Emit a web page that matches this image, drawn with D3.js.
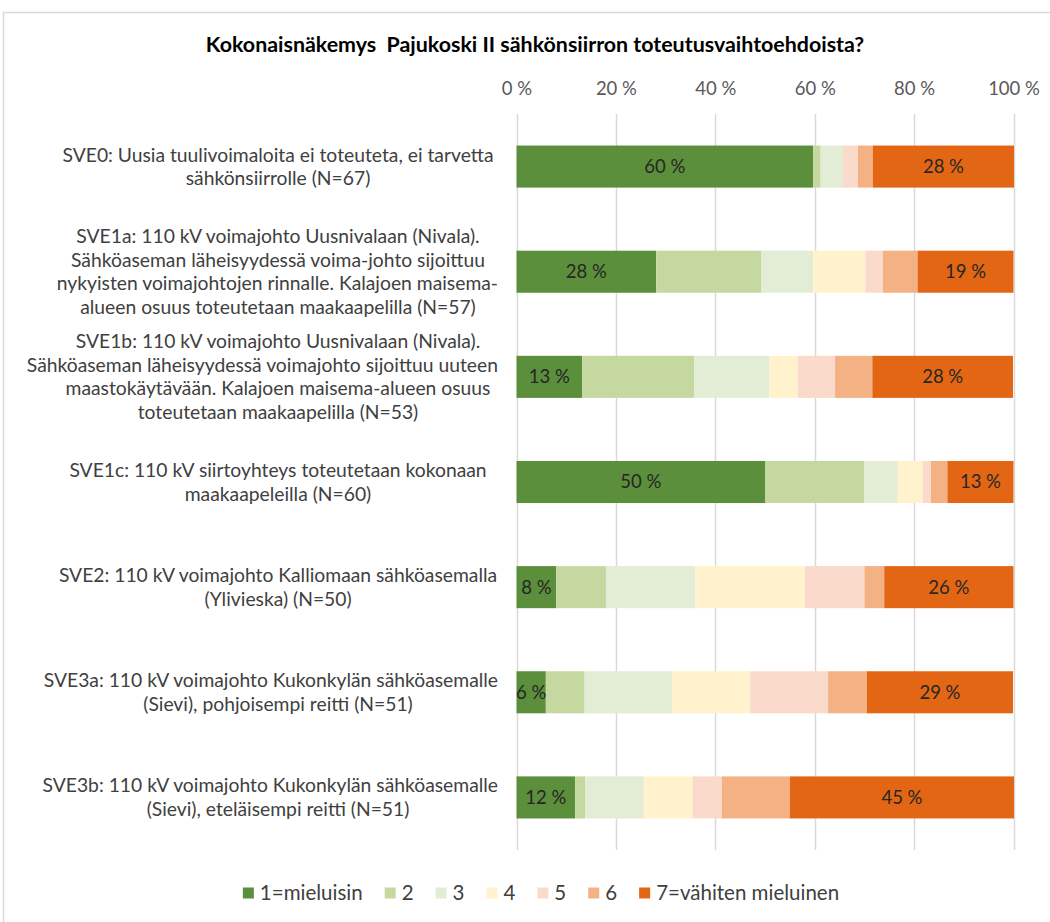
<!DOCTYPE html>
<html>
<head>
<meta charset="utf-8">
<script src="https://cdn.jsdelivr.net/npm/d3@7"></script>
<style>
  html, body { margin: 0; padding: 0; background: #fff; }
  svg { display: block; }
  text { font-family: Lato, "Open Sans", sans-serif; }
</style>
</head>
<body>
<svg id="chart" width="1050" height="922"></svg>
<script>
// ---- data ----
const title = "Kokonaisnäkemys  Pajukoski II sähkönsiirron toteutusvaihtoehdoista?";
const categories = [
  ["SVE0: Uusia tuulivoimaloita ei toteuteta, ei tarvetta", "sähkönsiirrolle (N=67)"],
  ["SVE1a: 110 kV voimajohto Uusnivalaan (Nivala).", "Sähköaseman läheisyydessä voima-johto sijoittuu", "nykyisten voimajohtojen rinnalle. Kalajoen maisema-", "alueen osuus toteutetaan maakaapelilla (N=57)"],
  ["SVE1b: 110 kV voimajohto Uusnivalaan (Nivala).", "Sähköaseman läheisyydessä voimajohto sijoittuu uuteen", "maastokäytävään. Kalajoen maisema-alueen osuus", "toteutetaan maakaapelilla (N=53)"],
  ["SVE1c: 110 kV siirtoyhteys toteutetaan kokonaan", "maakaapeleilla (N=60)"],
  ["SVE2: 110 kV voimajohto Kalliomaan sähköasemalla", "(Ylivieska) (N=50)"],
  ["SVE3a: 110 kV voimajohto Kukonkylän sähköasemalle", "(Sievi), pohjoisempi reitti (N=51)"],
  ["SVE3b: 110 kV voimajohto Kukonkylän sähköasemalle", "(Sievi), eteläisempi reitti (N=51)"]
];
const seriesNames = ["1=mieluisin", "2", "3", "4", "5", "6", "7=vähiten mieluinen"];
const s1 = [59.7, 28.1, 13.2, 50.0, 8.0, 5.9, 11.8];
const s2 = [1.5, 21.1, 22.6, 20.0, 10.0, 7.8, 2.0];
const s3 = [4.5, 10.5, 15.1, 6.7, 18.0, 17.6, 11.8];
const s4 = [0.0, 10.5, 5.7, 5.0, 22.0, 15.7, 9.8];
const s5 = [3.0, 3.5, 7.5, 1.7, 12.0, 15.7, 5.9];
const s6 = [3.0, 7.0, 7.5, 3.3, 4.0, 7.8, 13.7];
const s7 = [28.4, 19.3, 28.3, 13.3, 26.0, 29.4, 45.1];
const seriesValues = [s1, s2, s3, s4, s5, s6, s7];
const labelledSeries = [0, 6];
const tickValues = [0, 20, 40, 60, 80, 100];
const colors = ["#5b8f3b", "#c5d8a0", "#e3ecd5", "#fff2cc", "#fadbcb", "#f4b183", "#e26614"];

// ---- layout ----
const svg = d3.select("#chart");
const margin = {left: 516.5, right: 1013.5, top: 114, bottom: 850};

// frame
svg.append("rect").attr("x", 3.5).attr("y", 12.5).attr("width", 1060).attr("height", 940)
  .attr("fill", "none").attr("stroke", "#d9d9d9").attr("stroke-width", 1.5);

const x = d3.scaleLinear().domain([0, 100]).range([margin.left, margin.right]);
const y = d3.scaleBand().domain(d3.range(categories.length))
  .range([margin.top, margin.bottom]).paddingInner(0.6).paddingOuter(0.3);

// title
svg.append("text").attr("x", 535).attr("y", 52).attr("text-anchor", "middle")
  .attr("font-size", 21.4).attr("font-weight", "bold").attr("fill", "#000")
  .style("white-space", "pre").text(title);

// gridlines
svg.append("g").selectAll("line").data(tickValues).join("line")
  .attr("x1", d => Math.round(x(d)) + 0.5).attr("x2", d => Math.round(x(d)) + 0.5)
  .attr("y1", margin.top).attr("y2", margin.bottom)
  .attr("stroke", "#d9d9d9").attr("stroke-width", 1.5);

// top axis
const axis = d3.axisTop(x).tickValues(tickValues).tickFormat(d => d + " %").tickSize(0).tickPadding(0);
const ag = svg.append("g").attr("transform", `translate(0, 95)`).call(axis);
ag.select(".domain").remove();
ag.selectAll("text").attr("font-size", 18.5).attr("fill", "#595959")
  .style("font-family", "Lato, 'Open Sans', sans-serif");

// stacked data
const stackInput = categories.map((c, i) => {
  const o = {idx: i};
  seriesValues.forEach((s, k) => { o["k" + k] = s[i]; });
  return o;
});
const keys = seriesValues.map((s, k) => "k" + k);
const stacked = d3.stack().keys(keys)(stackInput);

const groups = svg.append("g").selectAll("g").data(stacked).join("g")
  .attr("fill", (d, k) => colors[k]);
groups.selectAll("rect").data(d => d).join("rect")
  .attr("x", d => x(d[0]))
  .attr("width", d => Math.max(0, x(d[1]) - x(d[0])))
  .attr("y", (d, i) => y(i))
  .attr("height", y.bandwidth());

// data labels
labelledSeries.forEach(k => {
  svg.append("g").selectAll("text").data(stacked[k]).join("text")
    .attr("x", d => (x(d[0]) + x(d[1])) / 2)
    .attr("y", (d, i) => y(i) + y.bandwidth() / 2)
    .attr("dy", "0.35em")
    .attr("text-anchor", "middle")
    .attr("font-size", 18.5).attr("fill", "#262626")
    .text(d => Math.round(d[1] - d[0]) + " %");
});

// category labels
const lineH = 23.5;
const labelCenter = 278;
const labelRight = 498;
const catG = svg.append("g");
categories.forEach((lines, i) => {
  const cy = y(i) + y.bandwidth() / 2;
  const n = lines.length;
  lines.forEach((ln, j) => {
    const t = catG.append("text")
      .attr("x", labelCenter)
      .attr("y", cy + (j - (n - 1) / 2) * lineH)
      .attr("dy", "0.35em")
      .attr("text-anchor", "middle")
      .attr("font-size", 19.3).attr("fill", "#404040")
      .text(ln);
    const w = t.node().getComputedTextLength();
    if (labelCenter + w / 2 > labelRight) {
      t.attr("x", labelRight - w / 2);
    }
  });
});

// legend
const legend = svg.append("g");
let cx = 0;
const gap = 22;
seriesNames.forEach((name, k) => {
  const g = legend.append("g");
  g.append("rect").attr("x", 0).attr("y", -5.5).attr("width", 11).attr("height", 11).attr("fill", colors[k]);
  const t = g.append("text").attr("x", 17).attr("y", 0).attr("dy", "0.35em")
    .attr("font-size", 20.5).attr("fill", "#404040").text(name);
  const w = 17 + t.node().getComputedTextLength();
  g.attr("transform", `translate(${cx}, 0)`);
  cx += w + gap;
});
const total = cx - gap;
legend.attr("transform", `translate(${541 - total / 2}, 893)`);
</script>
</body>
</html>
